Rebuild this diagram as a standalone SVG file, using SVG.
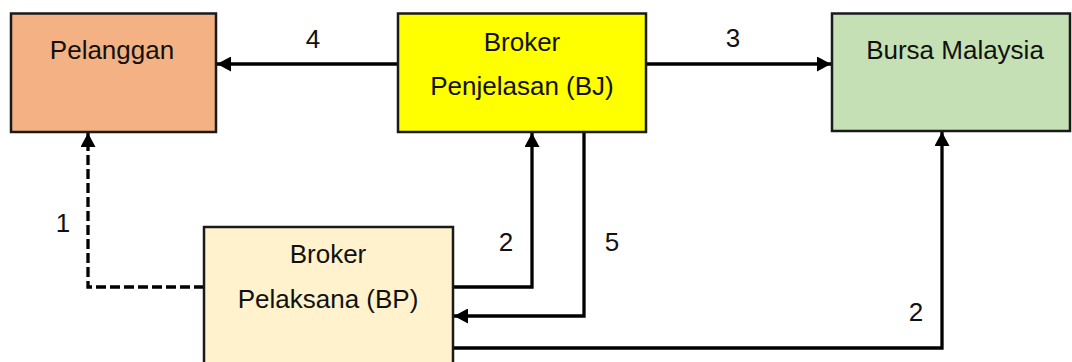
<svg xmlns="http://www.w3.org/2000/svg" width="1072" height="362" viewBox="0 0 1072 362">
<defs>
<style>
.box{stroke:#1a1a1a;stroke-width:2.5}
.t{font-family:"Liberation Sans",Arial,sans-serif;font-size:26px;fill:#111;text-anchor:middle}
.c{fill:none;stroke:#000;stroke-width:3.3}
.d{stroke-dasharray:10,4}
</style>
<marker id="ah" markerUnits="userSpaceOnUse" markerWidth="14" markerHeight="15" refX="14" refY="7.5" orient="auto">
<path d="M0,0 L14,7.5 L0,15 z" fill="#000"/>
</marker>
</defs>
<rect width="1072" height="362" fill="#fff"/>
<g id="connectors">
<path class="c" d="M398,64 H217" marker-end="url(#ah)"/>
<path class="c" d="M646,64 H831" marker-end="url(#ah)"/>
<path class="c d" d="M204,287 H88 V133" marker-end="url(#ah)"/>
<path class="c" d="M453,287 H532 V133" marker-end="url(#ah)"/>
<path class="c" d="M584,132 V316 H454" marker-end="url(#ah)"/>
<path class="c" d="M453,348 H942 V132" marker-end="url(#ah)"/>
<text class="t" x="313" y="48">4</text>
<text class="t" x="733" y="47">3</text>
<text class="t" x="63" y="232">1</text>
<text class="t" x="506" y="251">2</text>
<text class="t" x="612" y="251">5</text>
<text class="t" x="916" y="321">2</text>
</g>
<g id="pelanggan">
<rect class="box" x="11" y="13.5" width="205" height="118.5" fill="#F4B183"/>
<text class="t" x="112" y="59">Pelanggan</text>
</g>
<g id="bj">
<rect class="box" x="398" y="13.5" width="248" height="118.5" fill="#FFFF00"/>
<text class="t" x="522" y="51">Broker</text>
<text class="t" x="522" y="95">Penjelasan (BJ)</text>
</g>
<g id="bursa">
<rect class="box" x="832" y="13.5" width="238" height="117.5" fill="#C5E0B4"/>
<text class="t" x="955" y="59">Bursa Malaysia</text>
</g>
<g id="bp">
<rect class="box" x="204" y="227" width="249" height="150" fill="#FFF2CC"/>
<text class="t" x="328" y="263">Broker</text>
<text class="t" x="328" y="308">Pelaksana (BP)</text>
</g>
</svg>
